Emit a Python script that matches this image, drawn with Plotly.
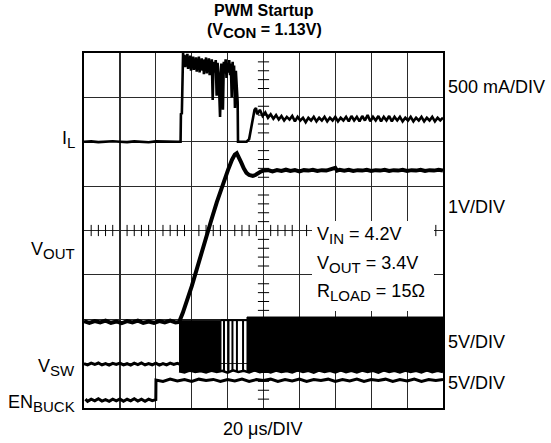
import plotly.graph_objects as go

# ---------------- data ----------------
# time in microseconds (20 us/DIV), values in physical units of each channel

# Inductor current I_L [A], 500 mA/DIV
il_samples = [
    (0, 0.0), (4, 0.004), (8, -0.004), (12, 0.0), (16, 0.005), (20, 0.0), (24, -0.004),
    (28, 0.004), (32, 0.0), (36, -0.005), (40, 0.004), (44, 0.0), (48, -0.004), (52, 0.0),
    (53.8, 0.0), (54.0, 0.32), (54.5, 0.31), (54.8, 0.92),
    (55.2, 1.00), (55.6, 0.86), (56.0, 0.98), (56.4, 0.84), (56.8, 0.95), (57.2, 0.88),
    (57.6, 0.99), (58.0, 0.82), (58.4, 0.94), (58.8, 0.86), (59.2, 0.97), (59.6, 0.80),
    (60.0, 0.93), (60.4, 0.85), (60.8, 0.96), (61.2, 0.81), (61.6, 0.92), (62.0, 0.84),
    (62.4, 0.95), (62.8, 0.79), (63.2, 0.93), (63.6, 0.83), (64.0, 0.96), (64.4, 0.78),
    (64.8, 0.91), (65.2, 0.84), (65.6, 0.94), (66.0, 0.80), (66.4, 0.92), (66.8, 0.76),
    (67.2, 0.93), (67.6, 0.82), (68.0, 0.95), (68.4, 0.77), (68.8, 0.90), (69.2, 0.83),
    (69.6, 0.94), (70.0, 0.75), (70.4, 0.91), (70.8, 0.80), (71.2, 0.93), (71.7, 0.47),
    (72.2, 0.90), (72.8, 0.78), (73.4, 0.92), (73.9, 0.52), (74.4, 0.89), (75.0, 0.76),
    (75.8, 0.28), (76.5, 0.88), (77.0, 0.74), (77.4, 0.36), (77.9, 0.90), (78.4, 0.77),
    (78.9, 0.93), (79.4, 0.72), (79.9, 0.89), (80.4, 0.78), (80.9, 0.92), (81.4, 0.75),
    (81.8, 0.88), (82.3, 0.50), (82.8, 0.90), (83.2, 0.74), (83.6, 0.86), (84.1, 0.38),
    (84.6, 0.80), (85.1, 0.62), (85.6, 0.45), (85.8, 0.0),
    (88.0, 0.0), (90.6, 0.0), (92.0, 0.03), (93.5, 0.20), (95.0, 0.36), (95.8, 0.38),
    (96.5, 0.31), (98, 0.36), (99.5, 0.29), (101, 0.33), (102.5, 0.27), (104, 0.31),
    (105.5, 0.26), (107, 0.30), (108.5, 0.25), (110, 0.29), (111.5, 0.24), (113, 0.28),
    (114.5, 0.25), (116, 0.29), (117.5, 0.23), (119, 0.28), (120.5, 0.24), (122, 0.27),
    (123.5, 0.22), (125, 0.27), (126.5, 0.24), (128, 0.28), (129.5, 0.23), (131, 0.27),
    (132.5, 0.24), (134, 0.28), (135.5, 0.23), (137, 0.27), (138.5, 0.24), (140, 0.28),
    (141.5, 0.23), (143, 0.27), (144.5, 0.24), (146, 0.28), (147.5, 0.23), (149, 0.29),
    (150.5, 0.24), (152, 0.28), (153.5, 0.23), (155, 0.29), (156.5, 0.24), (158, 0.30),
    (159.5, 0.23), (161, 0.28), (162.5, 0.24), (164, 0.29), (165.5, 0.23), (167, 0.28),
    (168.5, 0.24), (170, 0.29), (171.5, 0.23), (173, 0.28), (174.5, 0.24), (176, 0.28),
    (177.5, 0.23), (179, 0.27), (180.5, 0.24), (182, 0.28), (183.5, 0.23), (185, 0.27),
    (186.5, 0.24), (188, 0.28), (189.5, 0.23), (191, 0.27), (192.5, 0.24), (194, 0.28),
    (195.5, 0.23), (197, 0.27), (198.5, 0.24), (200, 0.27),
]

# Output voltage V_OUT [V], 1 V/DIV
vout_samples = [
    (0, 0.02), (3, -0.02), (6, 0.02), (9, -0.01), (12, 0.03), (15, -0.02), (18, 0.01),
    (21, -0.03), (24, 0.02), (27, -0.01), (30, 0.03), (33, -0.02), (36, 0.01), (39, -0.02),
    (42, 0.02), (45, -0.01), (48, 0.03), (51, -0.01), (53, 0.0), (55, 0.2), (60, 0.8),
    (65, 1.52), (71.1, 2.32), (74, 2.7), (77.4, 3.12), (80.2, 3.42), (82.4, 3.65),
    (84.0, 3.77), (85.1, 3.80), (86.2, 3.72), (87.5, 3.60), (89, 3.46), (90.5, 3.36),
    (92, 3.31), (94, 3.29), (95.5, 3.31), (97, 3.36), (98.5, 3.39), (100, 3.41),
    (102.5, 3.42), (105, 3.39), (107.5, 3.42), (110, 3.40), (112.5, 3.43), (115, 3.40),
    (117.5, 3.42), (120, 3.39), (122.5, 3.42), (125, 3.41), (127.5, 3.43), (130, 3.40),
    (132.5, 3.42), (135, 3.41), (137.5, 3.43), (140, 3.47), (141, 3.41), (142.5, 3.43),
    (145, 3.41), (147.5, 3.43), (150, 3.40), (152.5, 3.42), (155, 3.41), (157.5, 3.43),
    (160, 3.40), (162.5, 3.42), (165, 3.41), (167.5, 3.43), (170, 3.40), (172.5, 3.42),
    (175, 3.41), (177.5, 3.43), (180, 3.40), (182.5, 3.42), (185, 3.41), (187.5, 3.43),
    (190, 3.40), (192.5, 3.42), (195, 3.41), (197.5, 3.43), (200, 3.41),
]

# Switch node V_SW [V], 5 V/DIV
vsw_idle_samples = [
    (0, 0.05), (2, -0.1), (4, 0.1), (6, -0.05), (8, 0.12), (10, -0.1), (12, 0.05),
    (14, -0.12), (16, 0.08), (18, -0.05), (20, 0.1), (22, -0.1), (24, 0.04), (26, -0.12),
    (28, 0.1), (30, -0.06), (32, 0.12), (34, -0.1), (36, 0.06), (38, -0.08), (40, 0.1),
    (42, -0.12), (44, 0.05), (46, -0.1), (48, 0.1), (50, -0.05), (52, 0.08), (53.2, 0.0),
]
# dense switching bursts: (start us, end us, low V, high V)
vsw_bursts = [
    (53.2, 76.3, -0.85, 4.95),
    (90.8, 200.0, -0.8, 5.3),
]
# isolated switching pulses between bursts (us)
vsw_pulse_times = [78.0, 80.5, 82.7, 85.2, 88.6]
vsw_pulse_low, vsw_pulse_high = -0.85, 4.95
vsw_high_rail = [(76.3, 4.95), (90.8, 4.95)]
vsw_low_rail = [
    (53, -0.8), (56, -0.95), (59, -0.7), (62, -0.9), (65, -0.78), (68, -0.95), (71, -0.72),
    (74, -0.9), (77, -0.75), (80, -0.97), (83, -0.7), (86, -0.88), (89, -0.76), (92, -0.95),
    (95, -0.7), (98, -0.92), (101, -0.75), (104, -0.95), (107, -0.72), (110, -0.9),
    (113, -0.78), (116, -0.95), (119, -0.7), (122, -0.9), (125, -0.76), (128, -0.97),
    (131, -0.72), (134, -0.9), (137, -0.75), (140, -0.95), (143, -0.7), (146, -0.92),
    (149, -0.76), (152, -0.95), (155, -0.72), (158, -0.9), (161, -0.75), (164, -0.96),
    (167, -0.7), (170, -0.9), (173, -0.77), (176, -0.95), (179, -0.72), (182, -0.9),
    (185, -0.75), (188, -0.95), (191, -0.7), (194, -0.92), (197, -0.76), (200, -0.9),
]

# Enable EN_BUCK [V], 5 V/DIV
en_samples = [
    (0.8, 0.1), (2, -0.15), (4, 0.1), (6, -0.1), (8, 0.15), (10, -0.12), (12, 0.05),
    (14, -0.15), (16, 0.1), (18, -0.1), (20, 0.12), (22, -0.15), (24, 0.08), (26, -0.1),
    (28, 0.15), (30, -0.12), (32, 0.1), (34, -0.15), (36, 0.1), (38, -0.08), (40.0, 0.05),
    (40.1, 2.25), (44, 2.1), (48, 2.35), (52, 2.15), (56, 2.3), (60, 2.1), (64, 2.35),
    (68, 2.2), (72, 2.32), (76, 2.1), (80, 2.3), (84, 2.15), (88, 2.35), (92, 2.1),
    (96, 2.3), (100, 2.2), (104, 2.35), (108, 2.1), (112, 2.3), (116, 2.15), (120, 2.35),
    (124, 2.1), (128, 2.3), (132, 2.2), (136, 2.35), (140, 2.1), (144, 2.3), (148, 2.15),
    (152, 2.35), (156, 2.1), (160, 2.3), (164, 2.2), (168, 2.35), (172, 2.1), (176, 2.3),
    (180, 2.15), (184, 2.35), (188, 2.1), (192, 2.3), (196, 2.2), (200, 2.3),
]

# scope settings: division of the zero level and units per division for each channel
N_XDIV, N_YDIV = 10, 8
TIME_PER_DIV = 20.0
channels = {
    "il":   {"zero_div": 6.0,  "per_div": 0.5},
    "vout": {"zero_div": 1.94, "per_div": 1.0},
    "vsw":  {"zero_div": 0.99, "per_div": 5.0},
    "en":   {"zero_div": 0.18, "per_div": 5.0},
}

left_labels = [("I<sub>L</sub>", 139), ("V<sub>OUT</sub>", 251),
               ("V<sub>SW</sub>", 367), ("EN<sub>BUCK</sub>", 403)]
right_labels = [("500 mA/DIV", 87), ("1V/DIV", 207), ("5V/DIV", 342), ("5V/DIV", 383)]
cond_labels = [("V<sub>IN</sub> = 4.2V", 235), ("V<sub>OUT</sub> = 3.4V", 264),
               ("R<sub>LOAD</sub> = 15Ω", 292)]

# ---------------- figure ----------------
W, H = 551, 443
L, R, T, B = 84, 108, 53, 35
PW, PH = W - L - R, H - T - B
FONT = "Liberation Sans, Arial, sans-serif"
FS, FS_SUB, FS_TITLE = 18, 15, 16
T_MAX = N_XDIV * TIME_PER_DIV


def px_x(px):
    return (px - L) / PW


def px_y(py):
    return (H - B - py) / PH


def split(samples):
    return [s[0] for s in samples], [s[1] for s in samples]


fig = go.Figure()

# center-axis minor ticks (1/5 division)
tick_v_y = [k * 0.2 for k in range(1, N_YDIV * 5) if k % 5]
fig.add_trace(go.Scatter(x=[T_MAX / 2] * len(tick_v_y), y=tick_v_y, mode="markers",
                         marker=dict(symbol="line-ew", size=8, color="black",
                                     line=dict(width=1, color="black")),
                         hoverinfo="skip", showlegend=False))
tick_h_x = [k * TIME_PER_DIV / 5 for k in range(1, N_XDIV * 5) if k % 5]
fig.add_trace(go.Scatter(x=tick_h_x, y=[N_YDIV / 2] * len(tick_h_x), mode="markers",
                         marker=dict(symbol="line-ns", size=8, color="black",
                                     line=dict(width=1, color="black")),
                         hoverinfo="skip", showlegend=False))

# EN_BUCK
t, v = split(en_samples)
fig.add_trace(go.Scatter(x=t, y=v, yaxis="y5", mode="lines",
                         line=dict(color="black", width=3), showlegend=False))

# V_SW
t, v = split(vsw_idle_samples)
fig.add_trace(go.Scatter(x=t, y=v, yaxis="y4", mode="lines",
                         line=dict(color="black", width=3), showlegend=False))
for t0, t1, lo, hi in vsw_bursts:
    fig.add_trace(go.Scatter(x=[t0, t0, t1, t1, t0], y=[lo, hi, hi, lo, lo], yaxis="y4",
                             mode="lines", fill="toself", fillcolor="black",
                             line=dict(color="black", width=1), showlegend=False))
px_, py_ = [], []
for tp in vsw_pulse_times:
    px_ += [tp, tp, None]
    py_ += [vsw_pulse_low, vsw_pulse_high, None]
fig.add_trace(go.Scatter(x=px_, y=py_, yaxis="y4", mode="lines",
                         line=dict(color="black", width=2), showlegend=False))
t, v = split(vsw_high_rail)
fig.add_trace(go.Scatter(x=t, y=v, yaxis="y4", mode="lines",
                         line=dict(color="black", width=2), showlegend=False))
t, v = split(vsw_low_rail)
fig.add_trace(go.Scatter(x=t, y=v, yaxis="y4", mode="lines",
                         line=dict(color="black", width=2.5), showlegend=False))

# V_OUT
t, v = split(vout_samples)
fig.add_trace(go.Scatter(x=t, y=v, yaxis="y3", mode="lines",
                         line=dict(color="black", width=4), showlegend=False))

# I_L
t, v = split(il_samples)
fig.add_trace(go.Scatter(x=t, y=v, yaxis="y2", mode="lines",
                         line=dict(color="black", width=2.6), showlegend=False))


def ch_range(name):
    c = channels[name]
    return [-c["zero_div"] * c["per_div"], (N_YDIV - c["zero_div"]) * c["per_div"]]


hidden = dict(overlaying="y", visible=False, showgrid=False, zeroline=False)
axis_common = dict(showgrid=True, gridcolor="#2a2a2a", gridwidth=1.2, zeroline=False,
                   showline=True, mirror=True, linecolor="black", linewidth=2,
                   showticklabels=False, ticks="", fixedrange=True, tick0=0)
fig.update_layout(
    width=W, height=H, margin=dict(l=L, r=R, t=T, b=B),
    paper_bgcolor="white", plot_bgcolor="white", showlegend=False,
    font=dict(family=FONT, size=FS, color="black"),
    xaxis=dict(range=[0, T_MAX], dtick=TIME_PER_DIV, **axis_common),
    yaxis=dict(range=[0, N_YDIV], dtick=1, **axis_common),
    yaxis2=dict(range=ch_range("il"), **hidden),
    yaxis3=dict(range=ch_range("vout"), **hidden),
    yaxis4=dict(range=ch_range("vsw"), **hidden),
    yaxis5=dict(range=ch_range("en"), **hidden),
)

# white box behind the test-condition text
fig.add_shape(type="rect", xref="paper", yref="paper",
              x0=px_x(312), x1=px_x(434), y0=px_y(311), y1=px_y(221),
              fillcolor="white", line=dict(width=0), layer="above")

SUB = '<sub><span style="font-size:%dpx">{}</span></sub>' % FS_SUB


def fix_sub(s):
    out = s
    while "<sub>" in out and "<span" not in out:
        a = out.index("<sub>")
        b = out.index("</sub>")
        out = out[:a] + SUB.format(out[a + 5:b]) + out[b + 6:]
    return out


ann = []
for text, py in left_labels:
    ann.append(dict(text=fix_sub(text), x=px_x(77), y=px_y(py), xanchor="right",
                    yanchor="middle", font=dict(size=FS)))
for text, py in right_labels:
    ann.append(dict(text=text, x=px_x(446), y=px_y(py), xanchor="left",
                    yanchor="middle", font=dict(size=FS)))
for text, py in cond_labels:
    ann.append(dict(text=fix_sub(text), x=px_x(315), y=px_y(py), xanchor="left",
                    yanchor="middle", font=dict(size=FS)))
ann.append(dict(text="20 μs/DIV", x=px_x(262), y=px_y(429), xanchor="center",
                yanchor="middle", font=dict(size=FS)))
ann.append(dict(text="<b>PWM Startup</b>", x=px_x(264), y=px_y(11), xanchor="center",
                yanchor="middle", font=dict(size=FS_TITLE)))
ann.append(dict(text="<b>(V" + SUB.format("<b>CON</b>") + " = 1.13V)</b>", x=px_x(264),
                y=px_y(31), xanchor="center", yanchor="middle", font=dict(size=FS_TITLE)))
for a in ann:
    a.update(xref="paper", yref="paper", showarrow=False)
fig.update_layout(annotations=ann)

fig.write_html("out.html",
               config={"displayModeBar": False, "staticPlot": True},
               post_script="document.body.style.margin='0px';"
                           "document.body.style.overflow='hidden';")
